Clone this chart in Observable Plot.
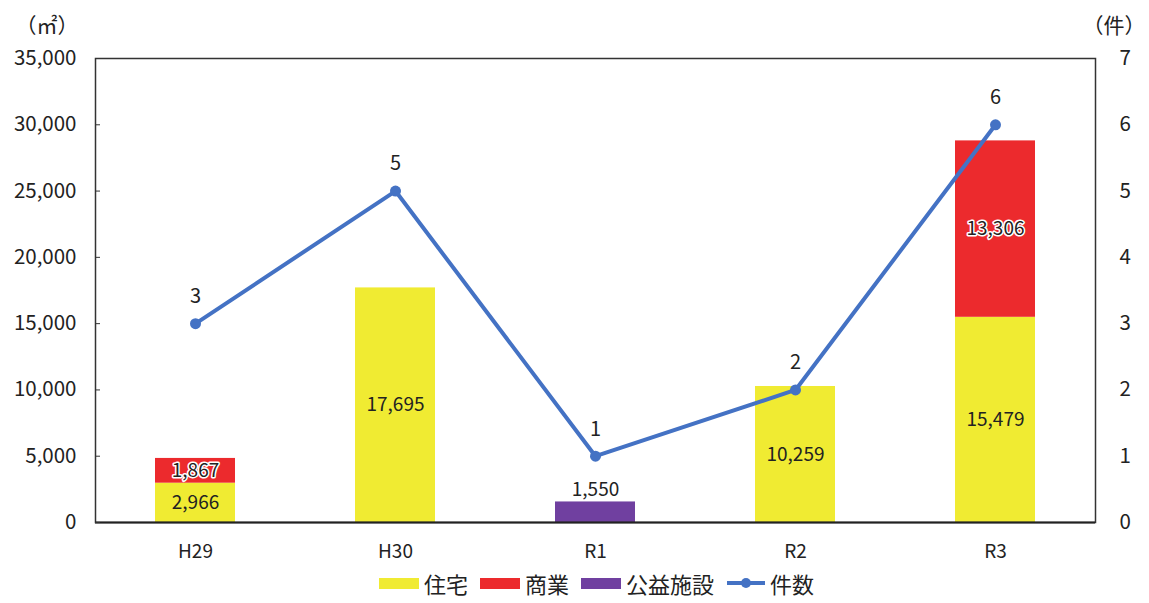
<!DOCTYPE html>
<html>
<head>
<meta charset="utf-8">
<script src="https://cdn.jsdelivr.net/npm/d3@7"></script>
<script src="https://cdn.jsdelivr.net/npm/@observablehq/plot@0.6"></script>
<style>
  body { margin: 0; background: #fff; font-family: "Noto Sans CJK JP", sans-serif; }
  #wrap { width: 1149px; }
  .legend { display: flex; justify-content: center; align-items: center; gap: 8px; font-size: 22px; color: #222; margin-top: 2px; margin-left: 48px; }
  .sw { display: inline-block; width: 40px; height: 11px; margin-right: 5px; }
  .item { display: flex; align-items: center; margin-right: 4px; }
</style>
</head>
<body>
<div id="wrap"></div>
<script>
const categories = ["H29", "H30", "R1", "R2", "R3"];
const seriesNames = ["住宅", "商業", "公益施設"];
const housing = [2966, 17695, 0, 10259, 15479];
const commercial = [1867, 0, 0, 0, 13306];
const publicFacilities = [0, 0, 1550, 0, 0];
const counts = [3, 5, 1, 2, 6];
const leftTicks = [0, 5000, 10000, 15000, 20000, 25000, 30000, 35000];
const rightTicks = [0, 1, 2, 3, 4, 5, 6, 7];
const colors = ["#F0EB32", "#EC2A2D", "#7040A0"];
const lineColor = "#4472C4";
const lineName = "件数";

const ratio = 35000 / 7;
const seriesValues = [housing, commercial, publicFacilities];
const bars = [];
seriesNames.forEach((s, i) => categories.forEach((c, j) => {
  if (seriesValues[i][j] > 0) bars.push({cat: c, type: s, value: seriesValues[i][j]});
}));
const pts = categories.map((c, j) => ({cat: c, n: counts[j]}));
const fmt = d3.format(",");

const inner = bars.filter(d => d.type !== "公益施設");
const above = bars.filter(d => d.type === "公益施設");

const chart = Plot.plot({
  width: 1149,
  height: 565,
  marginLeft: 95,
  marginRight: 54,
  marginTop: 58,
  marginBottom: 43,
  style: {fontFamily: "'Noto Sans CJK JP', sans-serif", fontSize: "19px", color: "#222", background: "#fff"},
  x: {domain: categories, paddingInner: 0.6, paddingOuter: 0.3, label: null},
  y: {domain: [0, 35000], label: null},
  color: {domain: seriesNames, range: colors},
  marks: [
    Plot.barY(bars, Plot.stackY({x: "cat", y: "value", fill: "type", order: seriesNames})),
    Plot.text(inner, Plot.stackY({x: "cat", y: "value", z: "type", order: seriesNames, text: d => fmt(d.value), fill: "#222", stroke: d => d.type === "商業" ? "#fff" : "none", strokeWidth: 3, paintOrder: "stroke", fontSize: 19})),
    Plot.text(above, {x: "cat", y: "value", text: d => fmt(d.value), dy: -12, fill: "#222", fontSize: 19}),
    Plot.frame({stroke: "#333", strokeWidth: 1.5}),
    Plot.ruleY([0], {stroke: "#222", strokeWidth: 2}),
    Plot.axisY(leftTicks, {anchor: "left", tickSize: -5, tickPadding: 24, tickFormat: d => fmt(d), fontSize: 20.5, stroke: "#333"}),
    Plot.axisY(rightTicks.map(d => d * ratio), {anchor: "right", tickSize: 0, tickPadding: 24, tickFormat: d => String(d / ratio), fontSize: 20.5}),
    Plot.axisX({tickSize: 0, tickPadding: 22, fontSize: 19}),
    Plot.line(pts, {x: "cat", y: d => d.n * ratio, stroke: lineColor, strokeWidth: 4}),
    Plot.dot(pts, {x: "cat", y: d => d.n * ratio, fill: lineColor, r: 5.5}),
    Plot.text(pts, {x: "cat", y: d => d.n * ratio, text: d => String(d.n), dy: -27, fontSize: 20, fill: "#222"}),
    Plot.text(["（㎡）"], {frameAnchor: "top-left", dx: -80, dy: -40, fontSize: 21, textAnchor: "start", fill: "#222"}),
    Plot.text(["（件）"], {frameAnchor: "top-right", dx: 50, dy: -40, fontSize: 21, textAnchor: "end", fill: "#222"})
  ]
});
document.getElementById("wrap").appendChild(chart);

const legend = document.createElement("div");
legend.className = "legend";
seriesNames.forEach((s, i) => {
  const it = document.createElement("span");
  it.className = "item";
  it.innerHTML = `<span class="sw" style="background:${colors[i]}"></span>${s}`;
  legend.appendChild(it);
});
const li = document.createElement("span");
li.className = "item";
li.innerHTML = `<svg width="40" height="14" style="margin-right:4px"><line x1="1" y1="7" x2="39" y2="7" stroke="${lineColor}" stroke-width="4"/><circle cx="20" cy="7" r="5" fill="${lineColor}"/></svg>${lineName}`;
legend.appendChild(li);
document.getElementById("wrap").appendChild(legend);
</script>
</body>
</html>
